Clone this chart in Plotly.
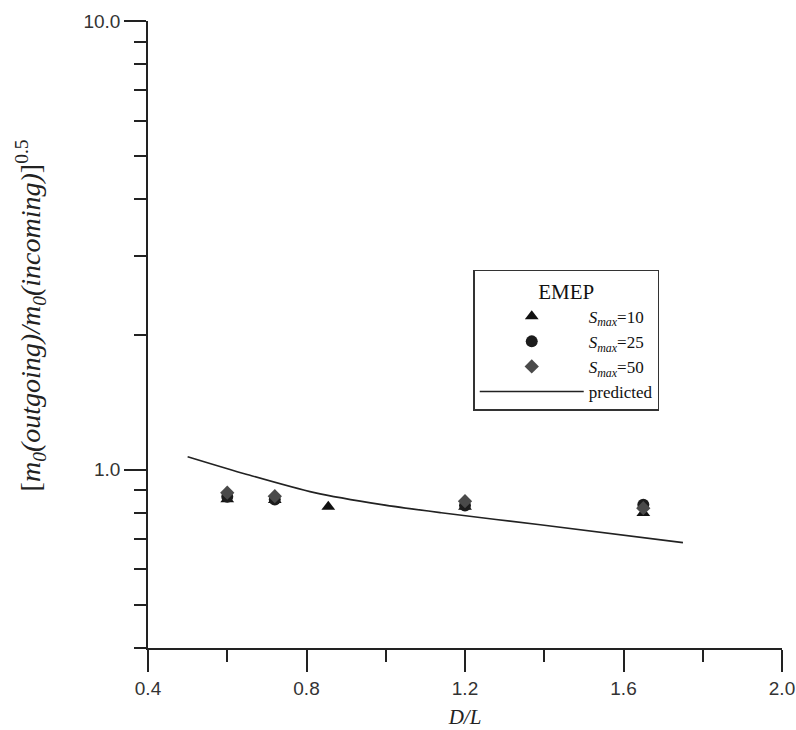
import plotly.graph_objects as go

# Data
x_s10 = [0.60, 0.72, 0.855, 1.20, 1.65]
y_s10 = [0.858, 0.855, 0.826, 0.826, 0.800]

x_s25 = [0.60, 0.72, 1.20, 1.65]
y_s25 = [0.870, 0.857, 0.831, 0.835]

x_s50 = [0.60, 0.72, 1.20, 1.65]
y_s50 = [0.888, 0.872, 0.850, 0.820]

x_pred = [0.50, 0.65, 0.82, 0.99, 1.14, 1.39, 1.75]
y_pred = [1.068, 0.975, 0.888, 0.835, 0.801, 0.753, 0.687]

x_ticks = [0.4, 0.8, 1.2, 1.6, 2.0]
x_ticklabels = ["0.4", "0.8", "1.2", "1.6", "2.0"]
x_minor = [0.6, 1.0, 1.4, 1.8]
y_ticks = [1.0, 10.0]
y_ticklabels = ["1.0", "10.0"]
y_minor = [0.4, 0.5, 0.6, 0.7, 0.8, 0.9, 2, 3, 4, 5, 6, 7, 8, 9]

SERIF = "Liberation Serif"
SANS = "Liberation Sans"
INK = "#222222"

fig = go.Figure()
fig.add_trace(go.Scatter(
    x=x_s10, y=y_s10, mode="markers", name="<i>S</i><sub><i>max</i></sub>=10",
    marker=dict(symbol="triangle-up", size=12, color="#111111")))
fig.add_trace(go.Scatter(
    x=x_s25, y=y_s25, mode="markers", name="<i>S</i><sub><i>max</i></sub>=25",
    marker=dict(symbol="circle", size=12, color="#1c1c1c")))
fig.add_trace(go.Scatter(
    x=x_s50, y=y_s50, mode="markers", name="<i>S</i><sub><i>max</i></sub>=50",
    marker=dict(symbol="diamond", size=11, color="#4a4a4a")))
fig.add_trace(go.Scatter(
    x=x_pred, y=y_pred, mode="lines", name="predicted",
    line=dict(color=INK, width=1.6, shape="spline", smoothing=0.8)))

fig.update_layout(
    width=796, height=730,
    margin=dict(l=148, r=14, t=21, b=82, autoexpand=False),
    paper_bgcolor="white", plot_bgcolor="white",
    showlegend=True,
    legend=dict(
        x=0.513, y=0.603, xanchor="left", yanchor="top",
        bgcolor="white", bordercolor="#333333", borderwidth=1.5,
        font=dict(family=SERIF, size=17, color="#111111"),
        title=dict(text="EMEP", side="top center",
                   font=dict(family=SERIF, size=21, color="#111111")),
        itemwidth=104,
    ),
    xaxis=dict(
        range=[0.4, 2.0], showgrid=False, zeroline=False, automargin=False,
        showline=True, linecolor=INK, linewidth=1.5,
        tickmode="array", tickvals=x_ticks, ticktext=x_ticklabels,
        ticks="outside", ticklen=22, tickwidth=1.5, tickcolor=INK,
        tickfont=dict(family=SANS, size=19, color="#333333"),
        minor=dict(tickmode="array", tickvals=x_minor, ticks="outside",
                   ticklen=12, tickwidth=1.5, tickcolor=INK, showgrid=False),
        title=dict(text="<i>D/L</i>", standoff=12,
                   font=dict(family=SERIF, size=21, color="#222222")),
    ),
    yaxis=dict(
        type="log", range=[-0.39794, 1.0], showgrid=False, zeroline=False,
        automargin=False,
        showline=True, linecolor=INK, linewidth=1.5,
        tickmode="array", tickvals=y_ticks, ticktext=y_ticklabels,
        ticks="outside", ticklen=22, tickwidth=1.5, tickcolor=INK,
        tickfont=dict(family=SANS, size=19, color="#333333"),
        minor=dict(tickmode="array", tickvals=y_minor, ticks="outside",
                   ticklen=12, tickwidth=1.5, tickcolor=INK, showgrid=False),
    ),
)

fig.add_annotation(
    text="[<i>m</i><sub><i>0</i></sub><i>(outgoing)/m</i><sub><i>0</i></sub><i>(incoming)</i>]<sup>0.5</sup>",
    xref="paper", yref="paper", x=-0.185, y=0.53,
    textangle=-90, showarrow=False, xanchor="center", yanchor="middle",
    font=dict(family=SERIF, size=28, color="#222222"),
)

fig.write_html("out.html", config={"displayModeBar": False},
               post_script="document.body.style.margin='0px';")
